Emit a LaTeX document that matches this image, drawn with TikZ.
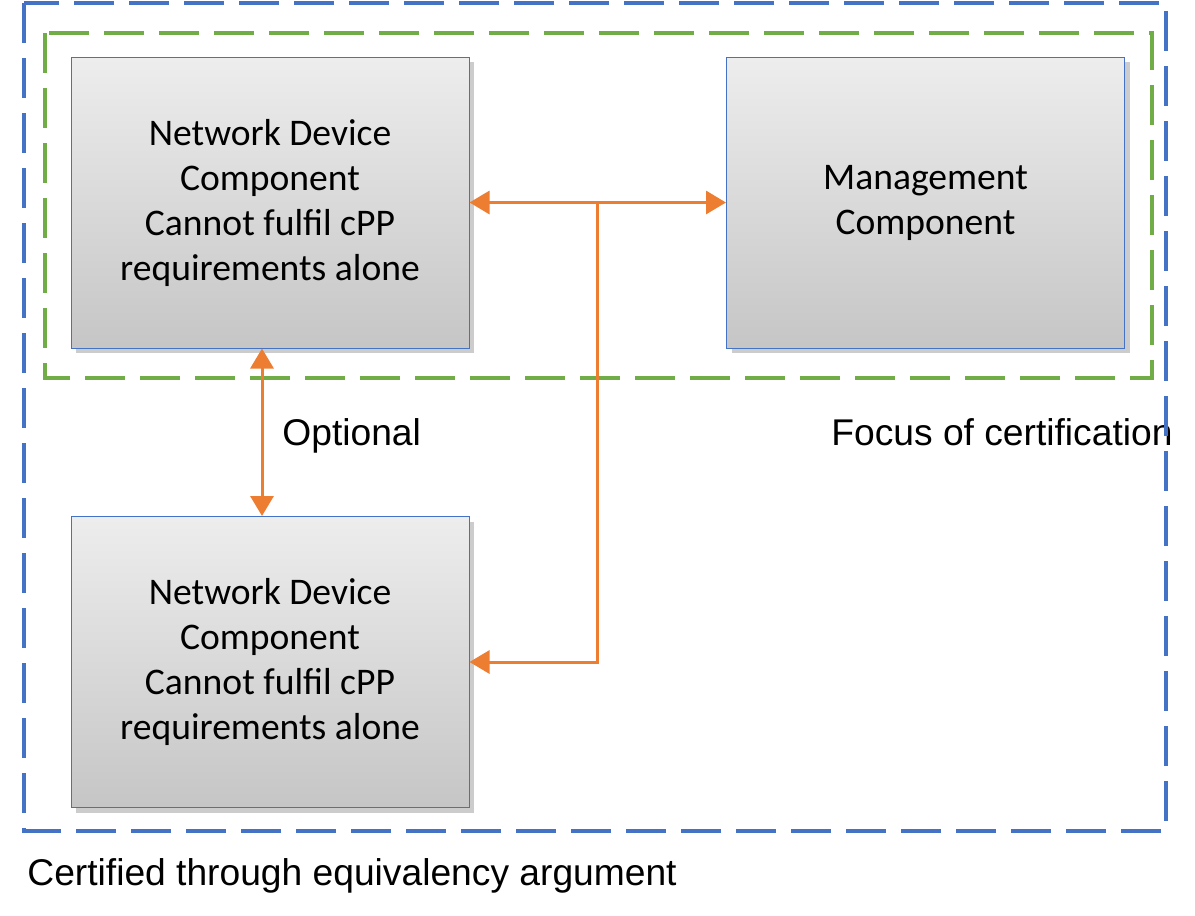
\documentclass[tikz,border=0pt]{standalone}
\usepackage{fontspec}
\setmainfont{Carlito}
\newfontfamily\arialfont{Liberation Sans}
\usetikzlibrary{arrows.meta,positioning,shadows}

\definecolor{frameblue}{HTML}{4472C4}
\definecolor{framegreen}{HTML}{70AD47}
\definecolor{linkorange}{HTML}{ED7D31}

\tikzset{
    compbox/.style={draw=frameblue, line width=0.5pt, top color=gray!14, bottom color=gray!45,
        minimum width=199pt, minimum height=145.5pt, align=center,
        font=\fontsize{18.8}{22.5}\selectfont,
        drop shadow={shadow xshift=2.5pt, shadow yshift=-2.5pt, opacity=0.4}},
    link/.style={draw=linkorange, line width=1.5pt},
    tip/.tip={Triangle[length=10pt,width=11.5pt]},
    frame/.style={line width=2pt, dash pattern=on 20pt off 7.5pt},
    caption/.style={font=\arialfont\fontsize{18.6}{22}\selectfont, anchor=base west, inner sep=0pt}
}

\begin{document}
\begin{tikzpicture}[x=0.5pt,y=-0.5pt]
    \useasboundingbox (0,0) rectangle (1195,916);
    \draw[frame, framegreen] (45,33) rectangle (1152,378);

    \node[compbox] (ndc) at (270,202.5) {Network Device\\Component\\Cannot fulfil cPP\\requirements alone};
    \node[compbox] (mgmt) at (925.5,202.5) {Management\\Component};
    \node[compbox] (ndcb) at (270,662) {Network Device\\Component\\Cannot fulfil cPP\\requirements alone};

    \coordinate (split) at (597,202.5);
    \draw[link, tip-tip] (ndc.east) -- (mgmt.west);
    \draw[link, -tip] (split) |- (ndcb.east);
    \draw[link, tip-tip] ([xshift=-4pt]ndc.south) -- ([xshift=-4pt]ndcb.north);

    \node[caption] (optional) at (282,445) {Optional};
    \node[caption] (focus) at (831,445) {Focus of certification};
    \node[caption] (certified) at (27,885) {Certified through equivalency argument};

    \draw[frame, frameblue] (24,3) rectangle (1166,831);
\end{tikzpicture}
\end{document}
